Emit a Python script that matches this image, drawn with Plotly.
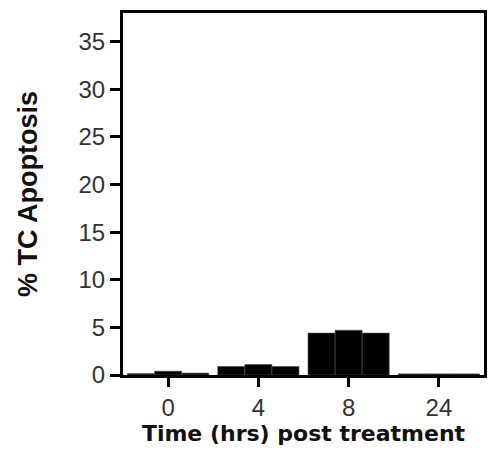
import plotly.graph_objects as go

categories = ["0", "4", "8", "24"]
rep1 = [0.15, 0.9, 4.4, 0.12]
rep2 = [0.4, 1.1, 4.7, 0.12]
rep3 = [0.2, 0.9, 4.4, 0.12]

fig = go.Figure()
for vals in (rep1, rep2, rep3):
    fig.add_trace(go.Bar(x=categories, y=vals, marker=dict(color="black", line=dict(color="#555", width=0.6)),
                         showlegend=False))

fig.update_layout(
    width=488, height=458,
    margin=dict(l=123, r=4, t=13, b=83),
    plot_bgcolor="white", paper_bgcolor="white",
    barmode="group", bargap=0.1, bargroupgap=0,
    font=dict(family="Liberation Sans, Arial, sans-serif", size=24, color="#333"),
)
fig.update_xaxes(
    type="category", range=[-0.5, 3.5], automargin=False,
    showline=True, linecolor="black", linewidth=3, mirror=True,
    ticks="outside", ticklen=9, tickwidth=2.5, tickcolor="black",
    showgrid=False,
    title=dict(text="<b>Time (hrs) post treatment</b>",
               font=dict(family="DejaVu Sans, sans-serif", size=22, color="#111"), standoff=0),
)
fig.update_yaxes(
    range=[0, 38], tickvals=[0, 5, 10, 15, 20, 25, 30, 35], automargin=False,
    showline=True, linecolor="black", linewidth=3, mirror=True,
    ticks="outside", ticklen=10, tickwidth=2.5, tickcolor="black",
    showgrid=False, zeroline=False,
    title=dict(text="<b>% TC Apoptosis</b>", font=dict(size=27, color="#111"), standoff=34),
)
fig.write_html("out.html", config={"displayModeBar": False},
               post_script="document.body.style.margin='0';document.body.style.overflow='hidden';")
